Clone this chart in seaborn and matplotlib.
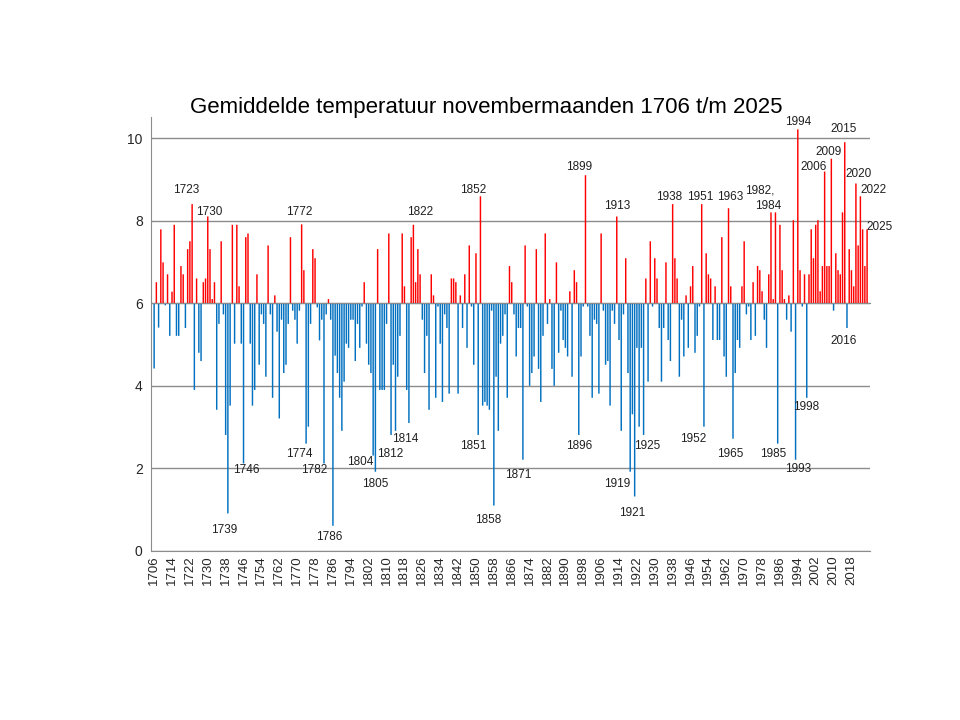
import numpy as np
import pandas as pd
import matplotlib
matplotlib.use("Agg")
import matplotlib.pyplot as plt
import seaborn as sns

# ---- data: mean November temperature (°C), 1706 .. 2025 ----
years = list(range(1706, 2026))
temps_1706 = [4.42, 6.51, 5.41, 7.79, 6.99, 5.95, 6.70, 5.21, 6.28, 7.90]
temps_1716 = [5.21, 5.21, 6.90, 6.70, 5.40, 7.31, 7.50, 8.40, 3.90, 6.60]
temps_1726 = [4.80, 4.60, 6.51, 6.60, 8.10, 7.31, 6.10, 6.51, 3.42, 5.50]
temps_1736 = [7.50, 5.73, 2.81, 0.91, 3.52, 7.90, 5.02, 7.90, 6.41, 5.02]
temps_1746 = [2.12, 7.60, 7.69, 5.02, 3.52, 3.90, 6.70, 4.51, 5.73, 5.50]
temps_1756 = [4.22, 7.40, 5.73, 3.71, 6.19, 5.31, 3.21, 5.60, 4.31, 4.51]
temps_1766 = [5.50, 7.60, 5.82, 5.60, 5.02, 5.82, 7.91, 6.80, 2.60, 3.01]
temps_1776 = [5.50, 7.31, 7.09, 5.90, 5.10, 5.60, 2.12, 5.73, 6.10, 5.60]
temps_1786 = [0.61, 4.73, 4.31, 3.71, 2.91, 4.10, 5.02, 4.92, 5.60, 5.60]
temps_1796 = [4.60, 5.50, 4.92, 5.92, 6.51, 5.02, 4.51, 4.31, 2.31, 1.92]
temps_1806 = [7.31, 3.90, 3.90, 3.90, 5.50, 7.69, 2.81, 4.51, 2.91, 4.22]
temps_1816 = [5.21, 7.69, 6.41, 3.90, 3.10, 7.60, 7.90, 6.51, 7.31, 6.70]
temps_1826 = [5.60, 4.31, 5.21, 3.42, 6.70, 6.19, 3.71, 5.92, 5.02, 3.61]
temps_1836 = [5.73, 5.40, 3.81, 6.60, 6.60, 6.51, 3.81, 6.19, 5.40, 6.70]
temps_1846 = [4.92, 7.40, 5.92, 4.51, 7.21, 2.81, 8.59, 3.52, 3.61, 3.52]
temps_1856 = [3.42, 5.82, 1.10, 4.22, 2.91, 5.02, 5.21, 5.73, 3.71, 6.90]
temps_1866 = [6.51, 5.73, 4.71, 5.40, 5.40, 2.21, 7.40, 5.92, 4.00, 4.31]
temps_1876 = [4.71, 7.31, 4.41, 3.61, 5.21, 7.69, 5.50, 6.10, 4.41, 4.00]
temps_1886 = [6.99, 4.80, 5.82, 5.11, 4.92, 4.71, 6.29, 4.22, 6.80, 6.51]
temps_1896 = [2.81, 4.71, 5.92, 9.10, 5.92, 5.21, 3.71, 5.60, 5.50, 3.81]
temps_1906 = [7.69, 5.82, 4.51, 4.60, 3.52, 5.82, 5.50, 8.10, 5.11, 2.91]
temps_1916 = [5.73, 7.09, 4.31, 1.92, 3.31, 1.32, 4.92, 3.01, 4.92, 2.81]
temps_1926 = [6.60, 4.10, 7.50, 5.92, 7.09, 6.60, 5.40, 4.10, 5.40, 6.99]
temps_1936 = [5.11, 4.60, 8.40, 7.09, 6.60, 4.22, 5.60, 4.71, 6.19, 4.92]
temps_1946 = [6.41, 6.90, 4.80, 5.21, 5.92, 8.40, 3.01, 7.21, 6.70, 6.60]
temps_1956 = [5.11, 6.41, 5.11, 5.11, 7.60, 4.71, 4.22, 8.30, 6.41, 2.72]
temps_1966 = [4.31, 5.11, 4.92, 6.41, 7.50, 5.73, 5.92, 5.11, 6.51, 5.21]
temps_1976 = [6.90, 6.80, 6.29, 5.60, 4.92, 6.70, 8.20, 6.10, 8.20, 2.60]
temps_1986 = [7.90, 6.80, 6.10, 5.60, 6.19, 5.31, 8.01, 2.21, 10.21, 6.80]
temps_1996 = [5.92, 6.70, 3.71, 6.70, 7.79, 7.09, 7.90, 8.01, 6.29, 6.90]
temps_2006 = [9.19, 6.90, 6.90, 9.50, 5.82, 7.21, 6.80, 6.70, 8.20, 9.90]
temps_2016 = [5.40, 7.31, 6.80, 6.41, 8.90, 7.40, 8.59, 7.79, 6.90, 7.79]

temps = (temps_1706 + temps_1716 + temps_1726 + temps_1736 + temps_1746 + temps_1756 +
         temps_1766 + temps_1776 + temps_1786 + temps_1796 + temps_1806 + temps_1816 +
         temps_1826 + temps_1836 + temps_1846 + temps_1856 + temps_1866 + temps_1876 +
         temps_1886 + temps_1896 + temps_1906 + temps_1916 + temps_1926 + temps_1936 +
         temps_1946 + temps_1956 + temps_1966 + temps_1976 + temps_1986 + temps_1996 +
         temps_2006 + temps_2016)
assert len(temps) == len(years)

baseline = 6.0
tick_years = list(range(1706, 2026, 8))

# annotation labels: text, x (category index), y (°C)
label_texts = ["1723", "1730", "1739", "1746", "1772", "1774", "1782", "1786",
               "1804", "1805", "1812", "1814", "1822", "1851", "1852", "1858",
               "1871", "1896", "1899", "1913", "1919", "1921", "1925", "1938",
               "1951", "1952", "1963", "1965", "1982,", "1984", "1985", "1993",
               "1994", "1998", "2006", "2009", "2015", "2016", "2020", "2022", "2025"]
label_x = [14.4, 24.6, 31.3, 41.2, 64.9, 64.9, 71.6, 78.3,
           92.2, 98.9, 105.6, 112.3, 119.0, 142.7, 142.7, 149.4,
           162.9, 190.2, 190.2, 207.2, 207.2, 213.9, 220.6, 230.4,
           244.3, 241.2, 257.7, 257.7, 271.1, 274.7, 277.0, 288.1,
           288.1, 291.7, 294.9, 301.6, 308.3, 308.3, 315.0, 321.7, 324.8]
label_y = [8.74, 8.21, 0.51, 1.96, 8.21, 2.35, 1.96, 0.34,
           2.15, 1.62, 2.35, 2.71, 8.21, 2.54, 8.74, 0.75,
           1.84, 2.54, 9.30, 8.35, 1.62, 0.92, 2.54, 8.57,
           8.57, 2.71, 8.57, 2.35, 8.74, 8.35, 2.35, 1.99,
           10.39, 3.49, 9.30, 9.66, 10.22, 5.08, 9.13, 8.74, 7.85]

df = pd.DataFrame({
    "year": [str(y) for y in years],
    "anom": [t - baseline for t in temps],
    "side": ["boven" if t >= baseline else "onder" for t in temps],
})

# ---- style ----
sns.set_style("white")
plt.rcParams["font.family"] = ["Liberation Sans", "DejaVu Sans"]

fig = plt.figure(figsize=(9.6, 7.2), dpi=100)
ax = fig.add_axes([151 / 960, 1 - 551 / 720, 719 / 960, (551 - 117.4) / 720])

sns.barplot(data=df, x="year", y="anom", hue="side", order=df["year"].tolist(),
            palette={"boven": "#FF0000", "onder": "#0070C0"}, saturation=1,
            dodge=False, width=0.65, errorbar=None, legend=False,
            bottom=baseline, linewidth=0, ax=ax)
for p in ax.patches:
    p.set_snap(False)

grid_c = "#8C8C8C"
ax.set_ylim(0, 10.5)
ax.set_xlim(-1.4, 320.3)
ax.set_yticks([0, 2, 4, 6, 8, 10])
ax.set_yticklabels(["0", "2", "4", "6", "8", "10"])
ax.yaxis.grid(True, color=grid_c, linewidth=1)
ax.xaxis.grid(False)
ax.set_axisbelow(True)
ax.set_xlabel("")
ax.set_ylabel("")

for s in ["top", "right"]:
    ax.spines[s].set_visible(False)
ax.spines["left"].set_color(grid_c)
ax.spines["bottom"].set_position(("data", baseline))
ax.spines["bottom"].set_color(grid_c)

ax.set_xticks(range(len(years)))
ax.tick_params(axis="x", labelbottom=False, length=4, width=1, color=grid_c, direction="out")
ax.tick_params(axis="y", length=4, width=1, color=grid_c, labelsize=10, labelcolor="#262626", pad=2)

sec = ax.secondary_xaxis(0.0)
tick_idx = [years.index(y) for y in tick_years]
sec.set_xticks(tick_idx)
sec.set_xticklabels([str(y) for y in tick_years], rotation=90, fontsize=9.5, color="#262626")
sec.tick_params(axis="x", length=0, pad=3)
sec.spines["bottom"].set_color(grid_c)

for t, x, y in zip(label_texts, label_x, label_y):
    ax.text(x, y, t, ha="center", va="center", fontsize=8.5, color="#202020", clip_on=False)

fig.text(486 / 960, 1 - 107 / 720, "Gemiddelde temperatuur novembermaanden 1706 t/m 2025",
         ha="center", va="center", fontsize=16, color="#000000")

fig.savefig("out.png", dpi=100, facecolor="white")
